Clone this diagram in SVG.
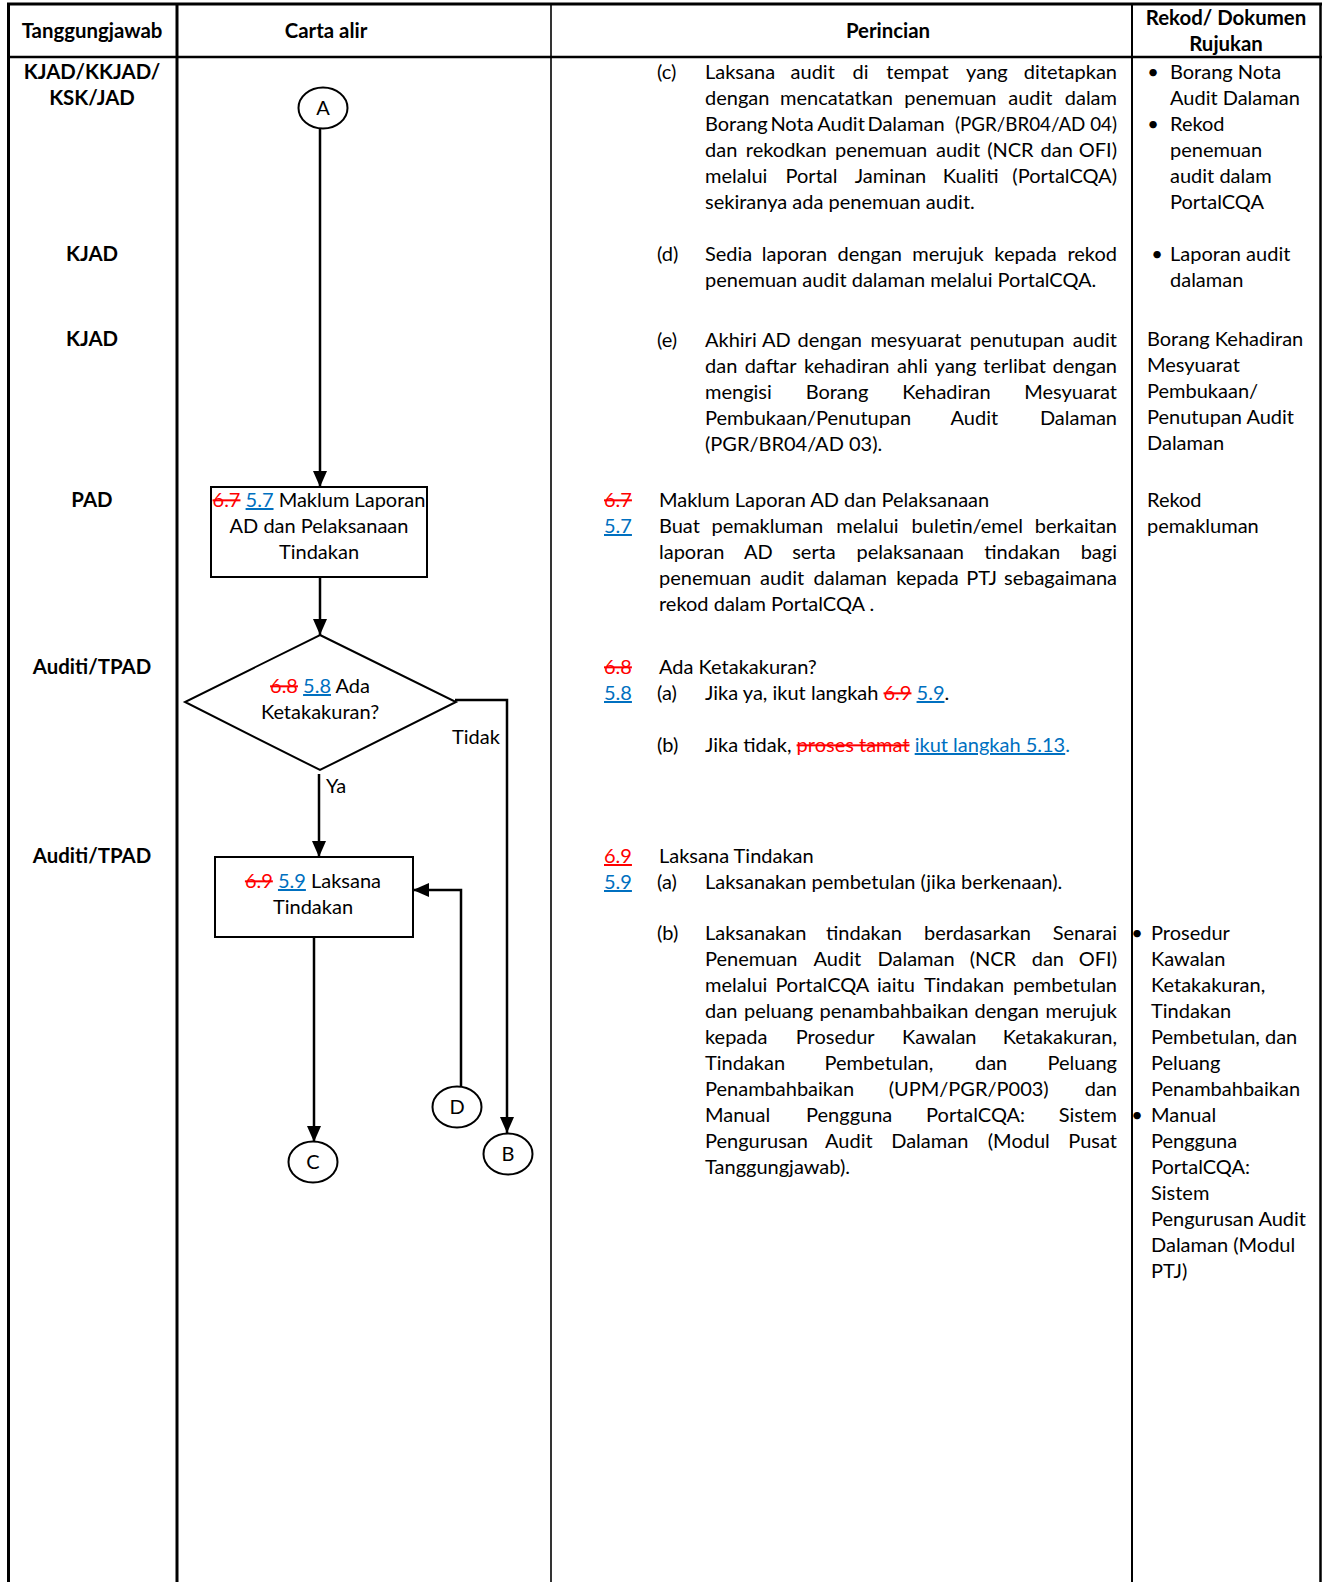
<svg xmlns="http://www.w3.org/2000/svg" width="1339" height="1582" viewBox="0 0 1339 1582">
<style>
.t{font-family:Lato,"Liberation Sans",sans-serif;font-size:20px;fill:#000}
.t.b{font-weight:bold;font-size:20.4px}
.c{text-anchor:middle}
.m{text-anchor:middle}
.e{text-anchor:end}
.red{fill:#FF0000}
.blue{fill:#0070C0}
.s{text-decoration:line-through}
.u{text-decoration:underline}
.shape{fill:#fff;stroke:#000;stroke-width:2}
.conn{stroke:#000;stroke-width:2.5;fill:none;marker-end:url(#arr)}
</style>
<defs>
<marker id="arr" markerUnits="userSpaceOnUse" markerWidth="16" markerHeight="14" refX="16" refY="7" orient="auto">
<path d="M0,0 L16,7 L0,14 z" fill="#000"/>
</marker>
</defs>
<rect x="0" y="0" width="1339" height="1582" fill="#fff"/>
<g id="table" stroke="#000" fill="none">
<line x1="7" y1="4" x2="1322" y2="4" stroke-width="3"/>
<line x1="7" y1="57" x2="1322" y2="57" stroke-width="2.5"/>
<line x1="8.5" y1="3" x2="8.5" y2="1582" stroke-width="3"/>
<line x1="177" y1="3" x2="177" y2="1582" stroke-width="3"/>
<line x1="551" y1="3" x2="551" y2="1582" stroke-width="1.6"/>
<line x1="1132" y1="3" x2="1132" y2="1582" stroke-width="2"/>
<line x1="1320.5" y1="3" x2="1320.5" y2="1582" stroke-width="2.5"/>
</g>
<g id="header">
<text class="t b c" x="92" y="38">Tanggungjawab</text>
<text class="t b c" x="326" y="38">Carta alir</text>
<text class="t b c" x="888" y="38">Perincian</text>
<text class="t b c" x="1226" y="25">Rekod/ Dokumen</text>
<text class="t b c" x="1226" y="51">Rujukan</text>
</g>
<g id="tanggungjawab">
<text class="t b c" x="92" y="79">KJAD/KKJAD/</text>
<text class="t b c" x="92" y="105">KSK/JAD</text>
<text class="t b c" x="92" y="261">KJAD</text>
<text class="t b c" x="92" y="346">KJAD</text>
<text class="t b c" x="92" y="507">PAD</text>
<text class="t b c" x="92" y="674">Auditi/TPAD</text>
<text class="t b c" x="92" y="863">Auditi/TPAD</text>
</g>
<g id="connectors">
<path class="conn" d="M320,128 V487"/>
<path class="conn" d="M320,577 V635"/>
<path class="conn" d="M319,774 V857"/>
<path class="conn" d="M455,700 H507 V1133"/>
<path class="conn" d="M314,937 V1142"/>
<path class="conn" d="M461,1087 V890 H413"/>
</g>
<g id="node-A">
<ellipse class="shape" cx="323" cy="108" rx="24.5" ry="20.5"/>
<text class="t c" x="323" y="115">A</text>
</g>
<g id="node-5-7">
<rect class="shape" x="211" y="487" width="216" height="90"/>
<text class="t c" x="319" y="507"><tspan class="red s">6.7</tspan> <tspan class="blue u">5.7</tspan> Maklum Laporan</text>
<text class="t c" x="319" y="533">AD dan Pelaksanaan</text>
<text class="t c" x="319" y="559">Tindakan</text>
</g>
<g id="node-5-8">
<polygon class="shape" points="320,635 456,702 320,770 185,702"/>
<text class="t c" x="320" y="693"><tspan class="red s">6.8</tspan> <tspan class="blue u">5.8</tspan> Ada</text>
<text class="t c" x="320" y="719">Ketakakuran?</text>
<text class="t c" x="476" y="744">Tidak</text>
<text class="t c" x="336" y="793">Ya</text>
</g>
<g id="node-5-9">
<rect class="shape" x="215" y="857" width="198" height="80"/>
<text class="t c" x="313" y="888"><tspan class="red s">6.9</tspan> <tspan class="blue u">5.9</tspan> Laksana</text>
<text class="t c" x="313" y="914">Tindakan</text>
</g>
<g id="node-C">
<ellipse class="shape" cx="313" cy="1162" rx="24.5" ry="20.5"/>
<text class="t c" x="313" y="1169">C</text>
</g>
<g id="node-D">
<ellipse class="shape" cx="457" cy="1107" rx="24.5" ry="20.5"/>
<text class="t c" x="457" y="1114">D</text>
</g>
<g id="node-B">
<ellipse class="shape" cx="508" cy="1154" rx="24.5" ry="20.5"/>
<text class="t c" x="508" y="1161">B</text>
</g>
<g id="perincian">
<text class="t" x="657" y="79">(c)</text>
<text class="t" y="79"><tspan x="705">Laksana</tspan><tspan class="m" x="812.7">audit</tspan><tspan class="m" x="860.5">di</tspan><tspan class="m" x="917.5">tempat</tspan><tspan class="m" x="986.9">yang</tspan><tspan class="e" x="1117">ditetapkan</tspan></text>
<text class="t" y="105"><tspan x="705">dengan</tspan><tspan class="m" x="836.5">mencatatkan</tspan><tspan class="m" x="950.4">penemuan</tspan><tspan class="m" x="1030.4">audit</tspan><tspan class="e" x="1117">dalam</tspan></text>
<text class="t" y="131"><tspan x="705">Borang</tspan><tspan class="m" x="792">Nota</tspan><tspan class="m" x="841">Audit</tspan><tspan class="m" x="906">Dalaman</tspan></text>
<text class="t" x="955" y="131" textLength="162" lengthAdjust="spacingAndGlyphs">(PGR/BR04/AD 04)</text>
<text class="t" y="157"><tspan x="705">dan</tspan><tspan class="m" x="786.2">rekodkan</tspan><tspan class="m" x="881.2">penemuan</tspan><tspan class="m" x="958.1">audit</tspan><tspan class="m" x="1010.4">(NCR</tspan><tspan class="m" x="1056.7">dan</tspan><tspan class="e" x="1117">OFI)</tspan></text>
<text class="t" y="183"><tspan x="705">melalui</tspan><tspan class="m" x="811.5">Portal</tspan><tspan class="m" x="890.5">Jaminan</tspan><tspan class="m" x="970.7">Kualiti</tspan><tspan class="e" x="1117">(PortalCQA)</tspan></text>
<text class="t" x="705" y="209">sekiranya ada penemuan audit.</text>
<text class="t" x="657" y="261">(d)</text>
<text class="t" y="261"><tspan x="705">Sedia</tspan><tspan class="m" x="794.5">laporan</tspan><tspan class="m" x="869.8">dengan</tspan><tspan class="m" x="948">merujuk</tspan><tspan class="m" x="1025.6">kepada</tspan><tspan class="e" x="1117">rekod</tspan></text>
<text class="t" x="705" y="287">penemuan audit dalaman melalui PortalCQA.</text>
<text class="t" x="657" y="347">(e)</text>
<text class="t" y="347"><tspan x="705">Akhiri</tspan><tspan class="m" x="776.4">AD</tspan><tspan class="m" x="829.8">dengan</tspan><tspan class="m" x="915.9">mesyuarat</tspan><tspan class="m" x="1017.1">penutupan</tspan><tspan class="e" x="1117">audit</tspan></text>
<text class="t" y="373"><tspan x="705">dan</tspan><tspan class="m" x="770.6">daftar</tspan><tspan class="m" x="846.8">kehadiran</tspan><tspan class="m" x="912.4">ahli</tspan><tspan class="m" x="955.6">yang</tspan><tspan class="m" x="1014.7">terlibat</tspan><tspan class="e" x="1117">dengan</tspan></text>
<text class="t" y="399"><tspan x="705">mengisi</tspan><tspan class="m" x="837">Borang</tspan><tspan class="m" x="946.4">Kehadiran</tspan><tspan class="e" x="1117">Mesyuarat</tspan></text>
<text class="t" y="425"><tspan x="705">Pembukaan/Penutupan</tspan><tspan class="m" x="974.4">Audit</tspan><tspan class="e" x="1117">Dalaman</tspan></text>
<text class="t" x="705" y="451">(PGR/BR04/AD 03).</text>

<text class="t red s" x="604" y="507">6.7</text>
<text class="t" x="659" y="507">Maklum Laporan AD dan Pelaksanaan</text>
<text class="t blue u" x="604" y="533">5.7</text>
<text class="t" y="533"><tspan x="659">Buat</tspan><tspan class="m" x="767.3">pemakluman</tspan><tspan class="m" x="867.5">melalui</tspan><tspan class="m" x="967.3">buletin/emel</tspan><tspan class="e" x="1117">berkaitan</tspan></text>
<text class="t" y="559"><tspan x="659">laporan</tspan><tspan class="m" x="758.4">AD</tspan><tspan class="m" x="814">serta</tspan><tspan class="m" x="910.3">pelaksanaan</tspan><tspan class="m" x="1022.2">tindakan</tspan><tspan class="e" x="1117">bagi</tspan></text>
<text class="t" y="585"><tspan x="659">penemuan</tspan><tspan class="m" x="782.1">audit</tspan><tspan class="m" x="850.2">dalaman</tspan><tspan class="m" x="927.4">kepada</tspan><tspan class="m" x="981.6">PTJ</tspan><tspan class="e" x="1117">sebagaimana</tspan></text>
<text class="t" x="659" y="611">rekod dalam PortalCQA .</text>

<text class="t red s" x="604" y="674">6.8</text>
<text class="t" x="659" y="674">Ada Ketakakuran?</text>
<text class="t blue u" x="604" y="700">5.8</text>
<text class="t" x="657" y="700">(a)</text>
<text class="t" x="705" y="700">Jika ya, ikut langkah <tspan class="red s">6.9</tspan> <tspan class="blue u">5.9</tspan>.</text>
<text class="t" x="657" y="752">(b)</text>
<text class="t" x="705" y="752">Jika tidak, <tspan class="red s">proses tamat</tspan> <tspan class="blue u">ikut langkah 5.13</tspan><tspan class="blue">.</tspan></text>

<text class="t red u" x="604" y="863">6.9</text>
<text class="t" x="659" y="863">Laksana Tindakan</text>
<text class="t blue u" x="604" y="889">5.9</text>
<text class="t" x="657" y="889">(a)</text>
<text class="t" x="705" y="889">Laksanakan pembetulan (jika berkenaan).</text>
<text class="t" x="657" y="940">(b)</text>
<text class="t" y="940"><tspan x="705">Laksanakan</tspan><tspan class="m" x="863.9">tindakan</tspan><tspan class="m" x="977.5">berdasarkan</tspan><tspan class="e" x="1117">Senarai</tspan></text>
<text class="t" y="966"><tspan x="705">Penemuan</tspan><tspan class="m" x="837.4">Audit</tspan><tspan class="m" x="916.1">Dalaman</tspan><tspan class="m" x="992.9">(NCR</tspan><tspan class="m" x="1047.9">dan</tspan><tspan class="e" x="1117">OFI)</tspan></text>
<text class="t" y="992"><tspan x="705">melalui</tspan><tspan class="m" x="822.4">PortalCQA</tspan><tspan class="m" x="896">iaitu</tspan><tspan class="m" x="964.1">Tindakan</tspan><tspan class="e" x="1117">pembetulan</tspan></text>
<text class="t" y="1018"><tspan x="705">dan</tspan><tspan class="m" x="778.6">peluang</tspan><tspan class="m" x="893.9">penambahbaikan</tspan><tspan class="m" x="1006.7">dengan</tspan><tspan class="e" x="1117">merujuk</tspan></text>
<text class="t" y="1044"><tspan x="705">kepada</tspan><tspan class="m" x="835.2">Prosedur</tspan><tspan class="m" x="939.3">Kawalan</tspan><tspan class="e" x="1117">Ketakakuran,</tspan></text>
<text class="t" y="1070"><tspan x="705">Tindakan</tspan><tspan class="m" x="878.9">Pembetulan,</tspan><tspan class="m" x="991.1">dan</tspan><tspan class="e" x="1117">Peluang</tspan></text>
<text class="t" y="1096"><tspan x="705">Penambahbaikan</tspan><tspan class="m" x="968.7">(UPM/PGR/P003)</tspan><tspan class="e" x="1117">dan</tspan></text>
<text class="t" y="1122"><tspan x="705">Manual</tspan><tspan class="m" x="849.2">Pengguna</tspan><tspan class="m" x="975.6">PortalCQA:</tspan><tspan class="e" x="1117">Sistem</tspan></text>
<text class="t" y="1148"><tspan x="705">Pengurusan</tspan><tspan class="m" x="848.9">Audit</tspan><tspan class="m" x="929.8">Dalaman</tspan><tspan class="m" x="1018.8">(Modul</tspan><tspan class="e" x="1117">Pusat</tspan></text>
<text class="t" x="705" y="1174">Tanggungjawab).</text>
</g>
<g id="rekod">
<text class="t c" x="1153" y="79">•</text>
<text class="t" x="1170" y="79">Borang Nota</text>
<text class="t" x="1170" y="105">Audit Dalaman</text>
<text class="t c" x="1153" y="131">•</text>
<text class="t" x="1170" y="131">Rekod</text>
<text class="t" x="1170" y="157">penemuan</text>
<text class="t" x="1170" y="183">audit dalam</text>
<text class="t" x="1170" y="209">PortalCQA</text>
<text class="t c" x="1157" y="261">•</text>
<text class="t" x="1170" y="261">Laporan audit</text>
<text class="t" x="1170" y="287">dalaman</text>
<text class="t" x="1147" y="346">Borang Kehadiran</text>
<text class="t" x="1147" y="372">Mesyuarat</text>
<text class="t" x="1147" y="398">Pembukaan/</text>
<text class="t" x="1147" y="424">Penutupan Audit</text>
<text class="t" x="1147" y="450">Dalaman</text>
<text class="t" x="1147" y="507">Rekod</text>
<text class="t" x="1147" y="533">pemakluman</text>
<text class="t c" x="1137" y="940">•</text>
<text class="t" x="1151" y="940">Prosedur</text>
<text class="t" x="1151" y="966">Kawalan</text>
<text class="t" x="1151" y="992">Ketakakuran,</text>
<text class="t" x="1151" y="1018">Tindakan</text>
<text class="t" x="1151" y="1044">Pembetulan, dan</text>
<text class="t" x="1151" y="1070">Peluang</text>
<text class="t" x="1151" y="1096">Penambahbaikan</text>
<text class="t c" x="1137" y="1122">•</text>
<text class="t" x="1151" y="1122">Manual</text>
<text class="t" x="1151" y="1148">Pengguna</text>
<text class="t" x="1151" y="1174">PortalCQA:</text>
<text class="t" x="1151" y="1200">Sistem</text>
<text class="t" x="1151" y="1226">Pengurusan Audit</text>
<text class="t" x="1151" y="1252">Dalaman (Modul</text>
<text class="t" x="1151" y="1278">PTJ)</text>
</g>
</svg>
